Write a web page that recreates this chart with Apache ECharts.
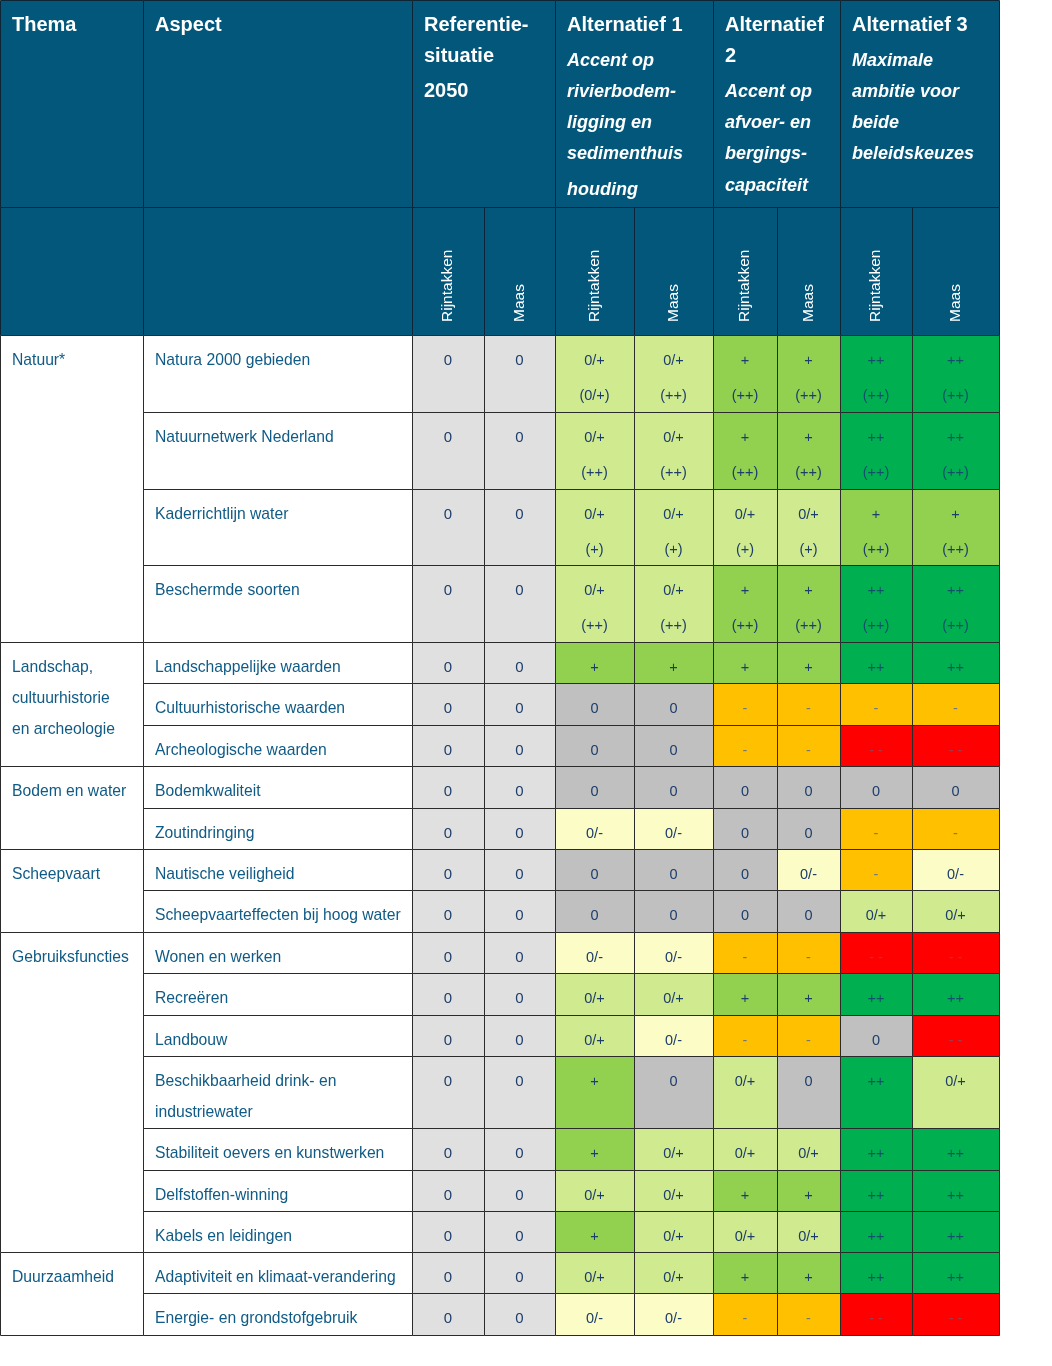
<!DOCTYPE html>
<html><head><meta charset="utf-8">
<script src="https://cdn.jsdelivr.net/npm/echarts@6/dist/echarts.min.js"></script>
<style>html,body{margin:0;padding:0;background:#fff}#c{width:1052px;height:1366px}</style>
</head><body><div id="c"></div>
<script>
// ---------- DATA ----------
const headerThema = [['Thema','b']];
const headerAspect = [['Aspect','b']];
const headerRef = [['Referentie-','b'],['situatie','b'],['2050','b']];
const headerAlt1 = [['Alternatief 1','b'],['Accent op','i'],['rivierbodem-','i'],['ligging en','i'],['sedimenthuis','i'],['houding','i']];
const headerAlt2 = [['Alternatief','b'],['2','b'],['Accent op','i'],['afvoer- en','i'],['bergings-','i'],['capaciteit','i']];
const headerAlt3 = [['Alternatief 3','b'],['Maximale','i'],['ambitie voor','i'],['beide','i'],['beleidskeuzes','i']];
const subHeaders = ['Rijntakken','Maas'];

const themes = ['Natuur*','Landschap,\ncultuurhistorie\nen archeologie','Bodem en water','Scheepvaart','Gebruiksfuncties','Duurzaamheid'];
const themeRowCounts = [4,3,2,2,7,2];

const aspects = ['Natura 2000 gebieden','Natuurnetwerk Nederland','Kaderrichtlijn water','Beschermde soorten',
  'Landschappelijke waarden','Cultuurhistorische waarden','Archeologische waarden',
  'Bodemkwaliteit','Zoutindringing',
  'Nautische veiligheid','Scheepvaarteffecten bij hoog water',
  'Wonen en werken','Recreëren','Landbouw','Beschikbaarheid drink- en\nindustriewater','Stabiliteit oevers en kunstwerken','Delfstoffen-winning','Kabels en leidingen',
  'Adaptiviteit en klimaat-verandering','Energie- en grondstofgebruik'];

const refRijntakken = ['0','0','0','0','0','0','0','0','0','0','0','0','0','0','0','0','0','0','0','0'];
const refMaas       = ['0','0','0','0','0','0','0','0','0','0','0','0','0','0','0','0','0','0','0','0'];
const alt1Rijntakken = ['0/+\n(0/+)','0/+\n(++)','0/+\n(+)','0/+\n(++)','+','0','0','0','0/-','0','0','0/-','0/+','0/+','+','+','0/+','+','0/+','0/-'];
const alt1Maas       = ['0/+\n(++)','0/+\n(++)','0/+\n(+)','0/+\n(++)','+','0','0','0','0/-','0','0','0/-','0/+','0/-','0','0/+','0/+','0/+','0/+','0/-'];
const alt2Rijntakken = ['+\n(++)','+\n(++)','0/+\n(+)','+\n(++)','+','-','-','0','0','0','0','-','+','-','0/+','0/+','+','0/+','+','-'];
const alt2Maas       = ['+\n(++)','+\n(++)','0/+\n(+)','+\n(++)','+','-','-','0','0','0/-','0','-','+','-','0','0/+','+','0/+','+','-'];
const alt3Rijntakken = ['++\n(++)','++\n(++)','+\n(++)','++\n(++)','++','-','- -','0','-','-','0/+','- -','++','0','++','++','++','++','++','- -'];
const alt3Maas       = ['++\n(++)','++\n(++)','+\n(++)','++\n(++)','++','-','- -','0','-','0/-','0/+','- -','++','- -','0/+','++','++','++','++','- -'];

// ---------- LAYOUT / STYLE ----------
const colWidths = [143,269,72,71,79,79,64,63,72,87];
const headerHeights = [207,128];
const rowHeights = [76.75,76.75,76.75,76.75,41.4,41.4,41.4,41.4,41.4,41.4,41.4,41.4,41.4,41.4,72.3,41.3,41.3,41.3,41.3,41.3];
const headerLineY = [[25],[25],[25,56,91],[25,61,92,123,154,190],[25,56,92,123,154,186],[25,61,92,123,154]];
const FONT = '"Liberation Sans", Arial, sans-serif';
const headBg = '#02577b';
const lineCol = '#2b2b2b';
const bodyInk = '#0f5b86';
const scoreFill = {'0':'#c0c0c0','0/+':'#d0ea90','+':'#92d050','++':'#00b050','0/-':'#fbfcc6','-':'#ffc000','- -':'#ff0000'};
const scoreInk = {'++':'#13506c','-':'#777777','- -':'#a8384c'};
const defaultInk = '#1d3d6b';

const colX = [0]; colWidths.forEach(w => colX.push(colX[colX.length-1] + w));
const rowY = [0, headerHeights[0], headerHeights[0] + headerHeights[1]];
rowHeights.forEach(h => rowY.push(rowY[rowY.length-1] + h));
const bodyTop = 2;
const totalH = rowY[rowY.length-1];
const totalW = colX[colX.length-1];

const cells = [];
function headerLines(lines, ys){
  return lines.map((l, i) => ({text:l[0], dx:12, dy:ys[i], align:'left', color:'#fff',
      font:(l[1] === 'b' ? 'bold 20px ' : 'italic bold 18px ') + FONT}));
}
// header row 1
[[0,1,headerThema],[1,2,headerAspect],[2,4,headerRef],[4,6,headerAlt1],[6,8,headerAlt2],[8,10,headerAlt3]].forEach((h, i) => {
  cells.push({x0:colX[h[0]], x1:colX[h[1]], y0:rowY[0], y1:rowY[1], fill:headBg, stroke:'#0d2535', texts:headerLines(h[2], headerLineY[i])});
});
// header row 2
for (let c = 0; c < 10; c++) {
  const texts = c >= 2 ? [{text:subHeaders[c % 2], center:true, fromBottom:13, rot:Math.PI/2, align:'left', color:'#fff', font:'15.5px ' + FONT}] : [];
  cells.push({x0:colX[c], x1:colX[c+1], y0:rowY[1], y1:rowY[2], fill:headBg, stroke:'#0d2535', texts});
}
// theme cells
let r = 0;
themes.forEach((t, i) => {
  const lines = t.split('\n');
  cells.push({x0:colX[0], x1:colX[1], y0:rowY[bodyTop + r], y1:rowY[bodyTop + r + themeRowCounts[i]], fill:'#fff', stroke:lineCol,
    texts:lines.map((l, k) => ({text:l, dx:12, dy:26 + k*31, align:'left', color:bodyInk, font:'15.7px ' + FONT}))});
  r += themeRowCounts[i];
});
// aspect + score cells
const scoreCols = [refRijntakken, refMaas, alt1Rijntakken, alt1Maas, alt2Rijntakken, alt2Maas, alt3Rijntakken, alt3Maas];
aspects.forEach((a, i) => {
  const y0 = rowY[bodyTop + i], y1 = rowY[bodyTop + i + 1];
  cells.push({x0:colX[1], x1:colX[2], y0, y1, fill:'#fff', stroke:lineCol,
    texts:a.split('\n').map((l, k) => ({text:l, dx:12, dy:26 + k*31, align:'left', color:bodyInk, font:'15.7px ' + FONT}))});
  scoreCols.forEach((col, j) => {
    const v = col[i]; const lines = v.split('\n'); const key = lines[0];
    const isRef = j < 2;
    const fill = isRef ? '#e0e0e0' : scoreFill[key];
    const ink = isRef ? defaultInk : (scoreInk[key] || defaultInk);
    cells.push({x0:colX[2 + j], x1:colX[3 + j], y0, y1, fill, stroke:lineCol,
      texts:lines.map((l, k) => ({text:l, center:true, dy:26 + k*35, align:'center', color:ink,
        font:(isRef ? '15px ' : '14.5px ') + FONT}))});
  });
});

// ---------- CHART ----------
const chart = echarts.init(document.getElementById('c'), null, {renderer:'canvas'});
chart.setOption({
  animation:false,
  backgroundColor:'#fff',
  grid:{left:0, top:0, width:totalW, height:totalH, containLabel:false},
  xAxis:{type:'value', min:0, max:totalW, show:false},
  yAxis:{type:'value', min:0, max:totalH, inverse:true, show:false},
  series:[{
    type:'custom', coordinateSystem:'cartesian2d', clip:false,
    data:cells.map((c, i) => [c.x0, c.y0, c.x1, c.y1, i]),
    renderItem:function(params, api){
      const c = cells[api.value(4)];
      const a = api.coord([api.value(0), api.value(1)]);
      const b = api.coord([api.value(2), api.value(3)]);
      const x0 = Math.round(a[0]), y0 = Math.round(a[1]), x1 = Math.round(b[0]), y1 = Math.round(b[1]);
      const children = [{type:'rect', shape:{x:x0 + 0.5, y:y0 + 0.5, width:x1 - x0, height:y1 - y0},
        style:{fill:c.fill, stroke:c.stroke, lineWidth:1}}];
      c.texts.forEach(t => {
        children.push({type:'text',
          x: t.center ? (x0 + x1) / 2 : x0 + t.dx,
          y: t.fromBottom !== undefined ? y1 - t.fromBottom : y0 + t.dy,
          rotation: t.rot || 0,
          style:{text:t.text, fill:t.color, font:t.font, align:t.align, verticalAlign:'middle'}});
      });
      return {type:'group', children};
    }
  }]
});
</script></body></html>
